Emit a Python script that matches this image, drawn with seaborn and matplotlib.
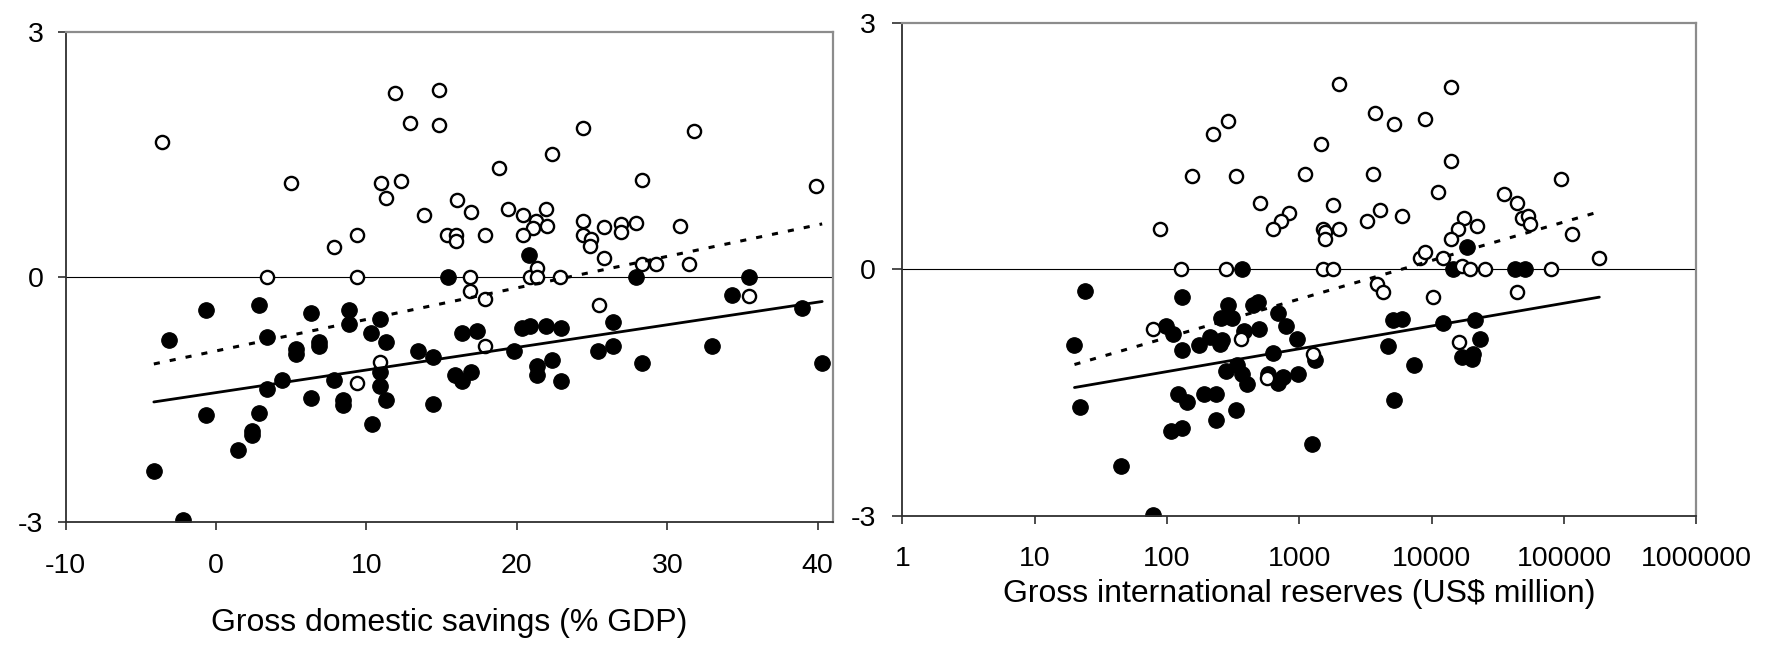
import numpy as np
import pandas as pd
import matplotlib
matplotlib.use("Agg")
import matplotlib.pyplot as plt
import seaborn as sns
from matplotlib.ticker import FixedLocator, FixedFormatter, NullLocator

# ---------------- Left panel: Gross domestic savings (% GDP) ----------------
savings_open_x = [-3.57, 4.95, 11.9, 14.8, 12.87, 14.8, 10.96, 12.29, 11.31, 13.82, 15.33,
                  7.83, 9.38, 3.39, 9.38, 24.42, 31.78, 22.33, 18.83, 28.32, 39.9, 16.0,
                  16.98, 19.4, 20.43, 21.94, 21.3, 21.98, 21.1, 15.95, 15.95, 17.9, 20.43,
                  24.42, 24.42, 24.9, 24.86, 25.8, 26.95, 26.95, 27.92, 30.85, 25.8, 28.32,
                  29.25, 31.43, 16.88, 20.86, 21.36, 21.36, 22.87, 16.88, 17.9, 25.45,
                  35.46, 17.9, 10.89, 9.38]
savings_open_y = [1.65, 1.15, 2.25, 2.29, 1.89, 1.86, 1.15, 1.18, 0.97, 0.76, 0.51,
                  0.37, 0.51, 0.0, 0.0, 1.83, 1.79, 1.51, 1.33, 1.19, 1.12, 0.94,
                  0.80, 0.83, 0.76, 0.83, 0.69, 0.62, 0.60, 0.51, 0.44, 0.51, 0.51,
                  0.69, 0.51, 0.47, 0.38, 0.61, 0.65, 0.55, 0.66, 0.62, 0.23, 0.16,
                  0.16, 0.16, 0.0, 0.0, 0.11, 0.0, 0.0, -0.17, -0.27, -0.34,
                  -0.23, -0.84, -1.04, -1.30]
savings_filled_x = [15.4, -0.64, 2.82, 6.28, 8.81, 8.81, 10.89, -3.12, 3.39, 5.3, 5.3,
                    6.85, 6.85, 10.29, 11.29, 13.44, 14.4, 10.89, 10.89, 11.29, 14.4,
                    4.35, 3.39, 7.83, 6.28, 8.41, 8.41, -0.64, 2.82, 2.42, 2.42, 1.46,
                    10.36, -4.14, -2.2, 20.78, 27.92, 35.46, 34.3, 38.97, 26.37, 16.33,
                    17.32, 20.34, 20.87, 21.94, 22.91, 15.88, 16.33, 16.93, 19.81, 21.31,
                    21.36, 22.33, 22.91, 25.42, 26.37, 28.32, 32.96, 40.3]
savings_filled_y = [0.0, -0.41, -0.34, -0.44, -0.41, -0.58, -0.52, -0.77, -0.73, -0.88, -0.94,
                    -0.80, -0.85, -0.69, -0.80, -0.91, -0.98, -1.16, -1.34, -1.51, -1.55,
                    -1.26, -1.37, -1.26, -1.48, -1.50, -1.57, -1.69, -1.66, -1.89, -1.94, -2.12,
                    -1.80, -2.37, -2.97, 0.27, 0.0, 0.0, -0.22, -0.38, -0.55, -0.69,
                    -0.66, -0.63, -0.60, -0.60, -0.63, -1.20, -1.27, -1.16, -0.91, -1.09,
                    -1.20, -1.02, -1.27, -0.91, -0.84, -1.05, -0.84, -1.05]
savings_fit_x = [-4.14, 40.3]
savings_fit_dashed_y = [-1.065, 0.65]
savings_fit_solid_y = [-1.53, -0.30]

# ---------------- Right panel: Gross international reserves (US$ million) ----------------
reserves_open_x = [290, 222, 154, 335, 506, 832, 724, 631, 89, 128, 278, 1099, 1455, 1991,
                   14125, 3758, 5212, 8933, 14125, 3597, 95719, 11246, 35318, 44055, 1811,
                   4083, 5957, 3273, 1507, 1567, 1574, 1991, 17620, 15922, 22182, 14125,
                   48084, 53333, 55463, 115345, 182390, 8185, 8933, 12274, 1507, 1811,
                   16904, 19543, 25351, 79616, 3890, 4325, 10209, 44055, 16218, 1279, 78,
                   361, 568]
reserves_open_y = [1.80, 1.64, 1.13, 1.13, 0.81, 0.68, 0.59, 0.49, 0.49, 0.0, 0.0, 1.16, 1.52, 2.25,
                   2.22, 1.90, 1.77, 1.83, 1.32, 1.16, 1.10, 0.94, 0.91, 0.81, 0.78,
                   0.72, 0.65, 0.59, 0.49, 0.45, 0.37, 0.49, 0.62, 0.49, 0.52, 0.37,
                   0.62, 0.65, 0.55, 0.43, 0.14, 0.14, 0.21, 0.14, 0.0, 0.0,
                   0.045, 0.0, 0.0, 0.0, -0.18, -0.28, -0.34, -0.28, -0.89, -1.03, -0.73,
                   -0.85, -1.32]
reserves_filled_x = [20, 22, 24, 45, 78, 98, 112, 107, 129, 122, 141, 129, 129, 176, 190, 234,
                     234, 212, 259, 251, 291, 255, 309, 280, 337, 367, 401, 333, 367, 383,
                     450, 491, 500, 585, 695, 759, 631, 695, 794, 957, 984, 1318, 1256,
                     4721, 5140, 5957, 5212, 7413, 12274, 21330, 23281, 16904, 20464,
                     20091, 18450, 14454, 42756, 50933]
reserves_filled_y = [-0.92, -1.68, -0.27, -2.39, -2.99, -0.69, -0.79, -1.97, -1.93, -1.52, -1.62,
                     -0.34, -0.98, -0.92, -1.52, -1.52, -1.83, -0.82, -0.86, -0.91, -0.43,
                     -0.59, -0.59, -1.24, -1.16, -1.28, -1.40, -1.71, 0.0, -0.75, -0.43,
                     -0.40, -0.73, -1.27, -1.38, -1.31, -1.02, -0.53, -0.69, -0.85, -1.27,
                     -1.10, -2.13, -0.94, -0.62, -0.60, -1.59, -1.17, -0.66, -0.62, -0.85,
                     -1.07, -1.03, -1.09, 0.27, 0.0, 0.0, 0.0]
reserves_fit_x = [20, 185000]
reserves_fit_dashed_y = [-1.16, 0.70]
reserves_fit_solid_y = [-1.44, -0.34]

x_ticks_left = [-10, 0, 10, 20, 30, 40]
x_ticks_right = [1, 10, 100, 1000, 10000, 100000, 1000000]
x_ticklabels_right = ["1", "10", "100", "1000", "10000", "100000", "1000000"]
y_ticks = [-3, 0, 3]
xlabel_left = "Gross domestic savings (% GDP)"
xlabel_right = "Gross international reserves (US$ million)"

# ---------------- styling ----------------
sns.set_theme(style="white")
plt.rcParams['font.family'] = ['Liberation Sans', 'DejaVu Sans']
plt.rcParams['axes.unicode_minus'] = False

W, H = 1774, 648
fig = plt.figure(figsize=(W / 100, H / 100), dpi=100)
ax1 = fig.add_axes([65.7 / W, (H - 522) / H, 767 / W, 490 / H])
ax2 = fig.add_axes([902.3 / W, (H - 515.7) / H, 794 / W, 493 / H])

FS = 20.5
FS_LABEL = 23
DARK = '#2e2e2e'
GREY = '#8c8c8c'


def draw(ax, ox, oy, fx, fy, fitx, fdy, fsy):
    ax.axhline(0, color='black', lw=0.8, zorder=1)
    sns.scatterplot(x=fx, y=fy, ax=ax, color='black', edgecolor='black',
                    s=125, linewidth=0.8, zorder=2, legend=False)
    sns.scatterplot(x=ox, y=oy, ax=ax, color='white', edgecolor='black',
                    s=90, linewidth=1.7, zorder=3, legend=False)
    sns.lineplot(x=fitx, y=fdy, ax=ax, color='black', lw=2.2,
                 linestyle=(0, (2.0, 3.3)), estimator=None, zorder=4)
    sns.lineplot(x=fitx, y=fsy, ax=ax, color='black', lw=2.0,
                 estimator=None, zorder=4)
    ax.set_ylim(-3, 3)
    ax.yaxis.set_major_locator(FixedLocator(y_ticks))
    ax.set_yticklabels([str(t) for t in y_ticks])
    for side in ['left', 'bottom']:
        ax.spines[side].set_color(DARK)
        ax.spines[side].set_linewidth(1.3)
    for side in ['top', 'right']:
        ax.spines[side].set_color(GREY)
        ax.spines[side].set_linewidth(1.6)
    ax.set_ylabel('')
    ax.tick_params(axis='both', which='major', bottom=True, left=True,
                   direction='out', width=1.2, color=DARK, labelsize=FS,
                   labelcolor='black')


draw(ax1, savings_open_x, savings_open_y, savings_filled_x, savings_filled_y,
     savings_fit_x, savings_fit_dashed_y, savings_fit_solid_y)
ax1.set_xlim(-10, 41)
ax1.xaxis.set_major_locator(FixedLocator(x_ticks_left))
ax1.set_xticklabels([str(t) for t in x_ticks_left])
ax1.tick_params(axis='x', length=6, pad=16.5)
ax1.tick_params(axis='y', length=6, pad=10)
ax1.set_xlabel(xlabel_left, fontsize=FS_LABEL, labelpad=21, color='black')

draw(ax2, reserves_open_x, reserves_open_y, reserves_filled_x, reserves_filled_y,
     reserves_fit_x, reserves_fit_dashed_y, reserves_fit_solid_y)
ax2.set_xscale('log')
ax2.set_xlim(1, 1000000)
ax2.xaxis.set_major_locator(FixedLocator(x_ticks_right))
ax2.xaxis.set_major_formatter(FixedFormatter(x_ticklabels_right))
ax2.xaxis.set_minor_locator(NullLocator())
ax2.tick_params(axis='x', length=6, pad=15.5)
ax2.tick_params(axis='y', length=7.5, pad=11.5)
ax2.set_xlabel(xlabel_right, fontsize=FS_LABEL, labelpad=5, color='black')

fig.savefig('out.png', dpi=100)
